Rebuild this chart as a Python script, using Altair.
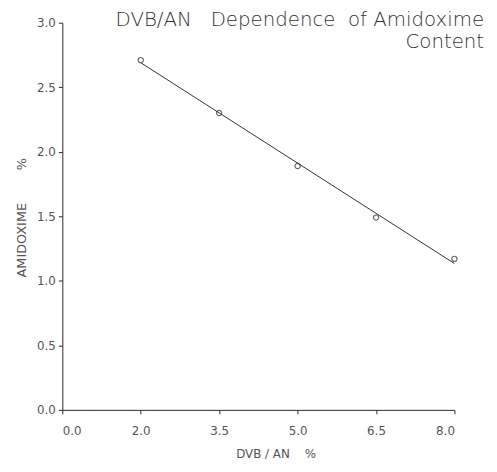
import altair as alt
import pandas as pd

# data
dvb_an = [2.0, 3.5, 5.0, 6.5, 8.0]
amidoxime = [2.71, 2.30, 1.89, 1.49, 1.17]
x_ticks = [0.5, 2.0, 3.5, 5.0, 6.5, 8.0]
x_tick_labels = ["0.0", "2.0", "3.5", "5.0", "6.5", "8.0"]
y_ticks = [0.0, 0.5, 1.0, 1.5, 2.0, 2.5, 3.0]

NB = "\u00a0"
title_lines = ["DVB/AN" + NB * 3 + "Dependence" + NB * 2 + "of" + NB + "Amidoxime", "Content"]
x_title = "DVB" + NB + "/" + NB + "AN" + NB * 4 + "%"
y_title = "AMIDOXIME" + NB * 8 + "%"

df = pd.DataFrame({"x": dvb_an, "y": amidoxime})

FONT = "DejaVu Sans, sans-serif"
INK = "#2a2a2a"
LBL = "#555"

label_expr = " : ".join(
    f"datum.value == {v} ? '{l}'" for v, l in zip(x_ticks, x_tick_labels)
) + " : datum.label"

x_enc = alt.X(
    "x:Q",
    scale=alt.Scale(domain=[0.5, 8.0], nice=False, zero=False),
    axis=alt.Axis(
        values=x_ticks,
        labelExpr=label_expr,
        title=x_title,
        grid=False,
        tickSize=4,
        labelPadding=12,
        labelFontSize=12,
        labelFont=FONT,
        labelColor=LBL,
        titleFont=FONT,
        titleFontSize=12,
        titleFontWeight="normal",
        titleColor=LBL,
        titleX=216,
        titleY=44,
        titleBaseline="middle",
        domainColor=INK,
        tickColor=INK,
    ),
)
y_enc = alt.Y(
    "y:Q",
    scale=alt.Scale(domain=[0.0, 3.0], nice=False),
    axis=alt.Axis(
        values=y_ticks,
        format=".1f",
        title=y_title,
        grid=False,
        tickSize=4,
        labelPadding=3,
        labelFontSize=12,
        labelFont=FONT,
        labelColor=LBL,
        titleFont=FONT,
        titleFontSize=13,
        titleFontWeight="normal",
        titleColor=LBL,
        titleX=-41,
        titleY=197,
        titleAngle=270,
        titleBaseline="middle",
        domainColor=INK,
        tickColor=INK,
    ),
)

points = alt.Chart(df).mark_point(
    shape="circle", filled=False, size=28, color=INK, strokeWidth=1.2
).encode(x=x_enc, y=y_enc)

fit = alt.Chart(df).transform_regression("x", "y", method="linear").mark_line(
    color="#333", strokeWidth=1
).encode(x="x:Q", y="y:Q")

chart = (
    alt.layer(fit, points)
    .properties(
        width=397,
        height=392,
        title=alt.TitleParams(
            text=title_lines,
            anchor="end",
            align="right",
            dx=25,
            dy=40,
            fontSize=20,
            font=FONT,
            fontWeight=300,
            color="#333",
            lineHeight=23,
        ),
        autosize=alt.AutoSizeParams(type="none"),
        padding={"left": 55, "top": 12, "right": 35, "bottom": 60},
    )
    .configure_view(stroke=None)
)

chart.save("out.html", embed_options={"renderer": "svg", "actions": False})
